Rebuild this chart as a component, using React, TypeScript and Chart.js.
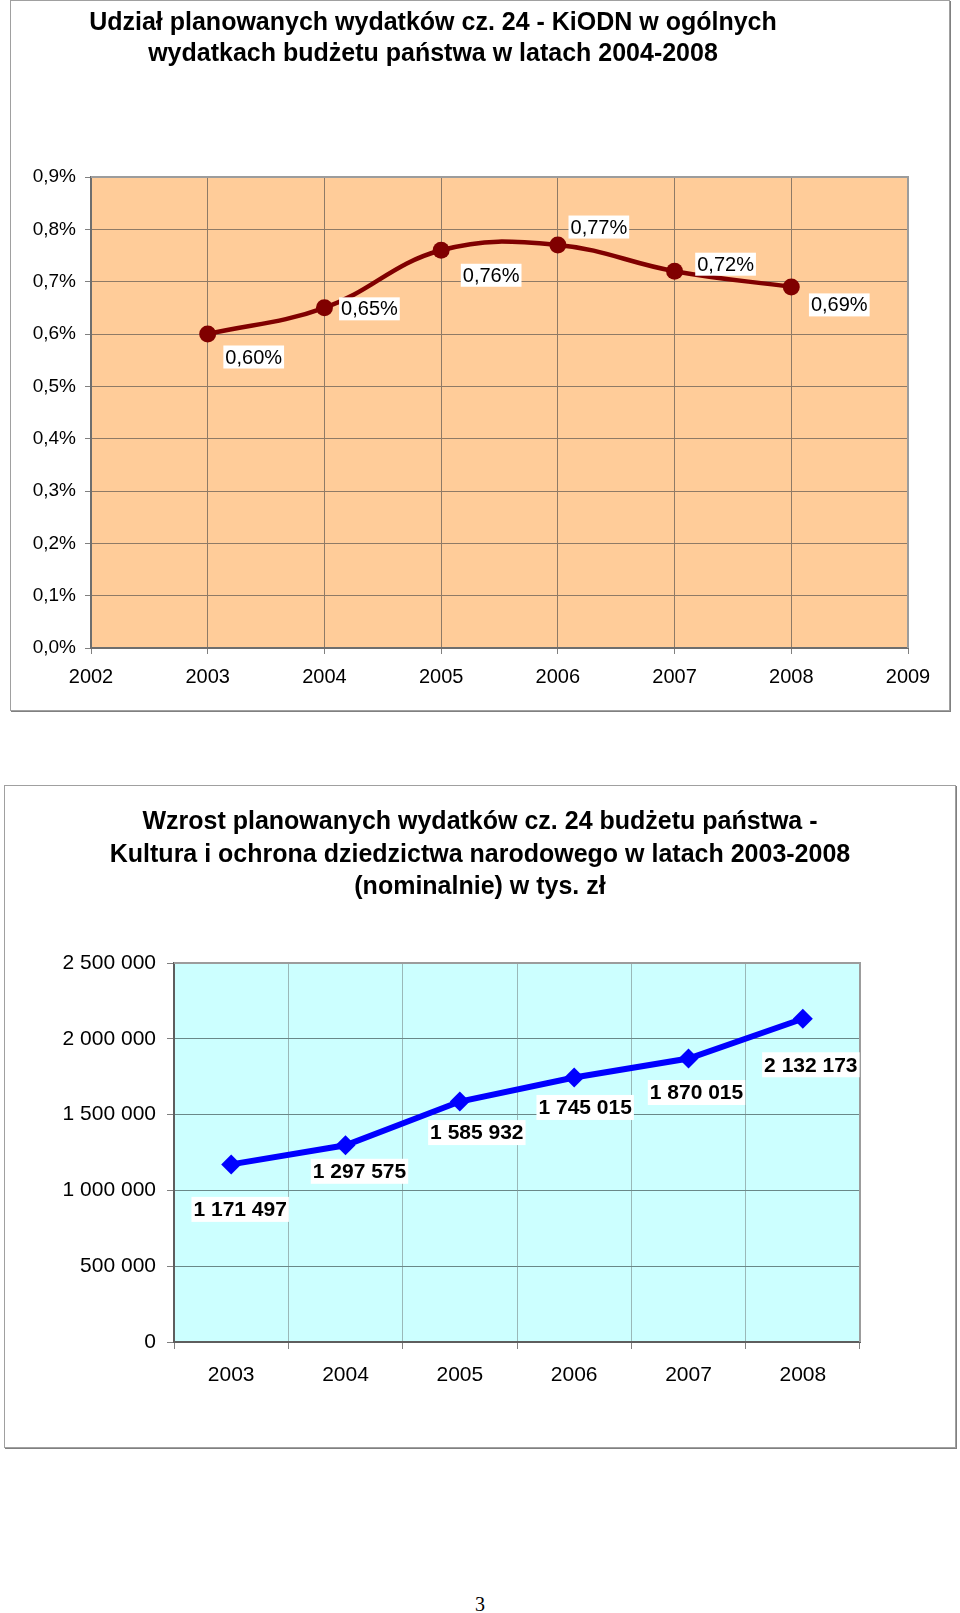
import React, { useEffect, useRef } from 'react';
import { Chart, registerables } from 'chart.js';

Chart.register(...registerables);

// ---------- Data: chart 1 (share of budget, %) ----------
const shareYears = [2003, 2004, 2005, 2006, 2007, 2008];
const shareValues = [0.6, 0.65, 0.76, 0.77, 0.72, 0.69];
const shareAxisYears = [2002, 2003, 2004, 2005, 2006, 2007, 2008, 2009];
const shareAxisMax = 0.9;
const shareAxisStep = 0.1;
const shareTitleLines = [
  'Udział planowanych wydatków cz. 24 - KiODN w ogólnych',
  'wydatkach budżetu państwa w latach 2004-2008',
];

// ---------- Data: chart 2 (expenditure, thousand PLN) ----------
const spendYears = ['2003', '2004', '2005', '2006', '2007', '2008'];
const spendValues = [1171497, 1297575, 1585932, 1745015, 1870015, 2132173];
const spendAxisMax = 2500000;
const spendAxisStep = 500000;
const spendTitleLines = [
  'Wzrost planowanych wydatków cz. 24 budżetu państwa -',
  'Kultura i ochrona dziedzictwa narodowego w latach 2003-2008',
  '(nominalnie) w tys. zł',
];

// label placement (layout, not data)
const shareLabelOffsets = [[46, 23], [45, 1], [50, 25], [41, -18], [51, -7], [48, 18]];
const spendLabelOffsets = [[9, 45], [14, 26], [17, 31], [11, 30], [8, 34], [8, 46]];

const FONT = "'Liberation Sans', Arial, sans-serif";

const fmtPct1 = (v: number) => v.toFixed(1).replace('.', ',') + '%';
const fmtPct2 = (v: number) => v.toFixed(2).replace('.', ',') + '%';
const fmtThousands = (v: number) =>
  Math.round(v).toString().replace(/\B(?=(\d{3})+(?!\d))/g, ' ');

function plotAreaPlugin(bg: string, edge: string) {
  return {
    id: 'plotArea',
    beforeDraw(chart: any) {
      const { ctx, chartArea: a } = chart;
      ctx.save();
      ctx.fillStyle = bg;
      ctx.fillRect(a.left, a.top, a.right - a.left, a.bottom - a.top);
      ctx.restore();
    },
    beforeDatasetsDraw(chart: any) {
      const { ctx, chartArea: a } = chart;
      ctx.save();
      ctx.strokeStyle = edge;
      ctx.lineWidth = 2;
      ctx.beginPath();
      ctx.moveTo(a.left, a.top);
      ctx.lineTo(a.right, a.top);
      ctx.lineTo(a.right, a.bottom);
      ctx.stroke();
      ctx.restore();
    },
  };
}

function valueLabelPlugin(
  values: number[],
  offsets: number[][],
  format: (v: number) => string,
  font: string,
  boxH: number
) {
  return {
    id: 'valueLabels',
    afterDatasetsDraw(chart: any) {
      const { ctx } = chart;
      const meta = chart.getDatasetMeta(0);
      ctx.save();
      ctx.font = font;
      ctx.textAlign = 'center';
      ctx.textBaseline = 'middle';
      meta.data.forEach((el: any, i: number) => {
        const text = format(values[i]);
        const x = el.x + offsets[i][0];
        const y = el.y + offsets[i][1];
        const w = ctx.measureText(text).width;
        ctx.fillStyle = '#ffffff';
        ctx.fillRect(x - w / 2 - 2, y - boxH / 2, w + 4, boxH);
        ctx.fillStyle = '#000000';
        ctx.fillText(text, x, y + 1);
      });
      ctx.restore();
    },
  };
}

function ShareChart() {
  const ref = useRef<HTMLCanvasElement | null>(null);
  useEffect(() => {
    if (!ref.current) return;
    const chart = new Chart(ref.current, {
      type: 'line',
      data: {
        datasets: [
          {
            data: shareYears.map((y, i) => ({ x: y, y: shareValues[i] })),
            borderColor: '#800000',
            backgroundColor: '#800000',
            borderWidth: 4.5,
            tension: 0.4,
            pointRadius: 8.5,
            pointBorderWidth: 0,
            pointBackgroundColor: '#800000',
          },
        ],
      },
      options: {
        animation: false,
        responsive: false,
        maintainAspectRatio: false,
        layout: { padding: { left: 0, right: 42, top: 177, bottom: 0 } },
        plugins: {
          legend: { display: false },
          tooltip: { enabled: false },
          title: { display: false },
        },
        scales: {
          x: {
            type: 'linear',
            min: shareAxisYears[0],
            max: shareAxisYears[shareAxisYears.length - 1],
            afterBuildTicks: (s: any) => {
              s.ticks = shareAxisYears.map((v) => ({ value: v }));
            },
            ticks: {
              callback: (v: any) => String(v),
              font: { family: FONT, size: 20 },
              color: '#000',
              padding: 11,
              maxRotation: 0,
              autoSkip: false,
            },
            grid: { color: '#8f7a66', tickLength: 6, tickColor: '#808080' },
            border: { color: '#6e6e6e', width: 2 },
            afterFit: (s: any) => {
              s.height = 62;
            },
          },
          y: {
            min: 0,
            max: shareAxisMax,
            ticks: {
              stepSize: shareAxisStep,
              callback: (v: any) => fmtPct1(Number(v)),
              font: { family: FONT, size: 19 },
              color: '#000',
              padding: 9,
            },
            grid: { color: '#8f7a66', tickLength: 6, tickColor: '#808080' },
            border: { color: '#6e6e6e', width: 2 },
            afterFit: (s: any) => {
              s.width = 81;
            },
          },
        },
      },
      plugins: [
        plotAreaPlugin('#FFCC99', '#9c9c9c'),
        valueLabelPlugin(shareValues, shareLabelOffsets, fmtPct2, `20px ${FONT}`, 23),
      ],
    } as any);
    return () => chart.destroy();
  }, []);
  return (
    <canvas
      ref={ref}
      width={940}
      height={710}
      style={{ position: 'absolute', left: 10, top: 0, width: 940, height: 710 }}
    />
  );
}

function SpendChart() {
  const ref = useRef<HTMLCanvasElement | null>(null);
  useEffect(() => {
    if (!ref.current) return;
    const chart = new Chart(ref.current, {
      type: 'line',
      data: {
        labels: spendYears,
        datasets: [
          {
            data: spendValues,
            borderColor: '#0000FF',
            backgroundColor: '#0000FF',
            borderWidth: 6,
            tension: 0,
            pointStyle: 'rectRot',
            pointRadius: 10,
            pointBorderWidth: 0,
            pointBackgroundColor: '#0000FF',
          },
        ],
      },
      options: {
        animation: false,
        responsive: false,
        maintainAspectRatio: false,
        layout: { padding: { left: 0, right: 95, top: 178, bottom: 0 } },
        plugins: {
          legend: { display: false },
          tooltip: { enabled: false },
          title: { display: false },
        },
        scales: {
          x: {
            type: 'category',
            offset: true,
            ticks: {
              font: { family: FONT, size: 21 },
              color: '#000',
              padding: 14,
              maxRotation: 0,
              autoSkip: false,
            },
            grid: { color: '#9ab8b8', tickLength: 7, tickColor: '#808080', offset: true },
            border: { color: '#5e5e5e', width: 2 },
            afterFit: (s: any) => {
              s.height = 106;
            },
          },
          y: {
            min: 0,
            max: spendAxisMax,
            ticks: {
              stepSize: spendAxisStep,
              callback: (v: any) => fmtThousands(Number(v)),
              font: { family: FONT, size: 21 },
              color: '#000',
              padding: 11,
            },
            grid: { color: '#6a8888', tickLength: 7, tickColor: '#808080' },
            border: { color: '#5e5e5e', width: 2 },
            afterFit: (s: any) => {
              s.width = 170;
            },
          },
        },
      },
      plugins: [
        plotAreaPlugin('#CCFFFF', '#9c9c9c'),
        valueLabelPlugin(spendValues, spendLabelOffsets, fmtThousands, `bold 21px ${FONT}`, 25),
      ],
    } as any);
    return () => chart.destroy();
  }, []);
  return (
    <canvas
      ref={ref}
      width={951}
      height={663}
      style={{ position: 'absolute', left: 4, top: 785, width: 951, height: 663 }}
    />
  );
}

export default function App() {
  const frame: React.CSSProperties = {
    position: 'absolute',
    boxSizing: 'border-box',
    border: '1px solid #a0a0a0',
    boxShadow: '1px 1px 0 #808080',
    background: '#fff',
  };
  const titleStyle: React.CSSProperties = {
    position: 'absolute',
    fontFamily: FONT,
    fontWeight: 'bold',
    color: '#000',
    textAlign: 'center',
    whiteSpace: 'nowrap',
  };
  return (
    <div
      style={{
        position: 'absolute',
        left: 0,
        top: 0,
        width: 960,
        height: 1613,
        background: '#fff',
        overflow: 'hidden',
      }}
    >
      <div style={{ ...frame, left: 10, top: 0, width: 940, height: 711 }} />
      <div style={{ ...frame, left: 4, top: 785, width: 952, height: 663 }} />
      <ShareChart />
      <SpendChart />
      <div
        style={{
          ...titleStyle,
          left: 33,
          width: 800,
          top: 6,
          fontSize: 25,
          lineHeight: '31px',
        }}
      >
        {shareTitleLines.map((l, i) => (
          <div key={i}>{l}</div>
        ))}
      </div>
      <div
        style={{
          ...titleStyle,
          left: 0,
          width: 960,
          top: 804,
          fontSize: 25,
          lineHeight: '32.5px',
        }}
      >
        {spendTitleLines.map((l, i) => (
          <div key={i}>{l}</div>
        ))}
      </div>
      <div
        style={{
          position: 'absolute',
          left: 0,
          width: 960,
          top: 1594,
          textAlign: 'center',
          fontFamily: "'Liberation Serif', 'Times New Roman', serif",
          fontSize: 20,
          lineHeight: '20px',
        }}
      >
        3
      </div>
    </div>
  );
}
